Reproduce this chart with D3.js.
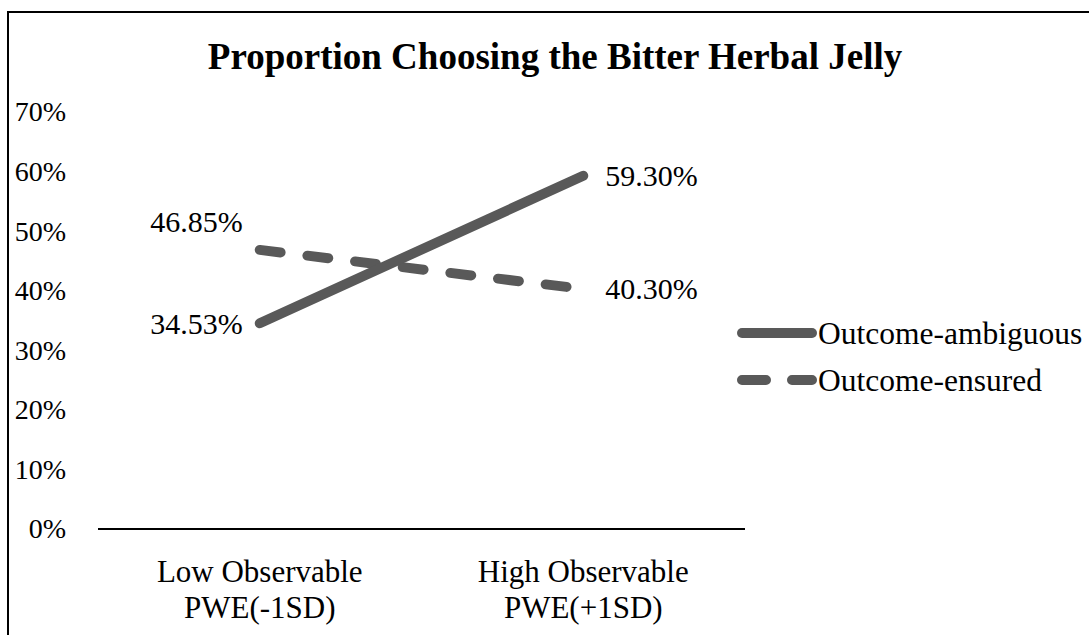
<!DOCTYPE html>
<html>
<head>
<meta charset="utf-8">
<script src="https://cdn.jsdelivr.net/npm/d3@7"></script>
<style>
  body { margin: 0; background: #fff; }
  text { font-family: "Liberation Serif", "Times New Roman", serif; fill: #000; }
</style>
</head>
<body>
<div id="chart"></div>
<script>
var categories = [["Low Observable", "PWE(-1SD)"], ["High Observable", "PWE(+1SD)"]];
var seriesNames = ["Outcome-ambiguous", "Outcome-ensured"];
var ambiguousValues = [0.3453, 0.5930];
var ensuredValues = [0.4685, 0.4030];
var yTicks = [0, 0.1, 0.2, 0.3, 0.4, 0.5, 0.6, 0.7];
var title = "Proportion Choosing the Bitter Herbal Jelly";

var width = 1089, height = 635,
    lineColor = "#595959",
    svg = d3.select("#chart").append("svg")
        .attr("width", width)
        .attr("height", height);

// outer frame (right/bottom edges fall outside the picture)
svg.append("rect")
    .attr("x", 8).attr("y", 12)
    .attr("width", width + 10).attr("height", height + 10)
    .attr("fill", "none")
    .attr("stroke", "#000")
    .attr("stroke-width", 2);

svg.append("text")
    .attr("x", 555).attr("y", 69)
    .attr("text-anchor", "middle")
    .style("font-size", "37px")
    .style("font-weight", "bold")
    .text(title);

var xScale = d3.scaleBand()
    .domain(categories.map(function (d, i) { return i; }))
    .range([98, 745]);
var yScale = d3.scaleLinear().domain([0, 0.7]).range([529, 112]);

var yAxis = d3.axisLeft(yScale)
    .tickValues(yTicks)
    .tickFormat(d3.format(".0%"))
    .tickSize(0)
    .tickPadding(0);

var gy = svg.append("g")
    .attr("transform", "translate(66,0)")
    .call(yAxis);
gy.select(".domain").remove();
gy.selectAll("text")
    .style("font-size", "28px")
    .style("font-family", "Liberation Serif, serif")
    .attr("fill", "#000");

// x axis line
svg.append("line")
    .attr("x1", xScale.range()[0]).attr("x2", xScale.range()[1])
    .attr("y1", yScale(0)).attr("y2", yScale(0))
    .attr("stroke", "#000")
    .attr("stroke-width", 2);

var catLabel = svg.selectAll(".cat")
    .data(categories)
    .enter().append("text")
    .attr("class", "cat")
    .attr("text-anchor", "middle")
    .attr("transform", function (d, i) {
        return "translate(" + (xScale(i) + xScale.bandwidth() / 2) + ",582)";
    })
    .style("font-size", "31px");
catLabel.append("tspan").attr("x", 0).attr("y", 0).text(function (d) { return d[0]; });
catLabel.append("tspan").attr("x", 0).attr("y", 36).text(function (d) { return d[1]; });

var series = [
    { name: seriesNames[0], values: ambiguousValues, dash: null, labelDy: [0, 0] },
    { name: seriesNames[1], values: ensuredValues, dash: "21,27", labelDy: [-28, 0] }
];

var line = d3.line()
    .x(function (d, i) { return xScale(i) + xScale.bandwidth() / 2; })
    .y(function (d) { return yScale(d); });

// ensured drawn first so the solid line sits on top
series.slice().reverse().forEach(function (s) {
    svg.append("path")
        .datum(s.values)
        .attr("d", line)
        .attr("fill", "none")
        .attr("stroke", lineColor)
        .attr("stroke-width", 10)
        .attr("stroke-linecap", "round")
        .attr("stroke-dasharray", s.dash);
});

series.forEach(function (s) {
    svg.selectAll(null)
        .data(s.values)
        .enter().append("text")
        .attr("x", function (d, i) {
            return xScale(i) + xScale.bandwidth() / 2 + (i === 0 ? -17 : 22);
        })
        .attr("y", function (d, i) { return yScale(d) + s.labelDy[i]; })
        .attr("dy", "0.35em")
        .attr("text-anchor", function (d, i) { return i === 0 ? "end" : "start"; })
        .style("font-size", "30px")
        .text(function (d) { return d3.format(".2%")(d); });
});

// legend
var legend = svg.selectAll(".legend")
    .data(series)
    .enter().append("g")
    .attr("class", "legend")
    .attr("transform", function (d, i) { return "translate(737," + (333 + i * 47) + ")"; });

legend.append("line")
    .attr("x1", 5).attr("x2", 75)
    .attr("stroke", lineColor)
    .attr("stroke-width", 10)
    .attr("stroke-linecap", "round")
    .attr("stroke-dasharray", function (d) { return d.dash ? "24,26" : null; });

legend.append("text")
    .attr("x", 81)
    .attr("dy", "0.35em")
    .style("font-size", "31.5px")
    .text(function (d) { return d.name; });
</script>
</body>
</html>
